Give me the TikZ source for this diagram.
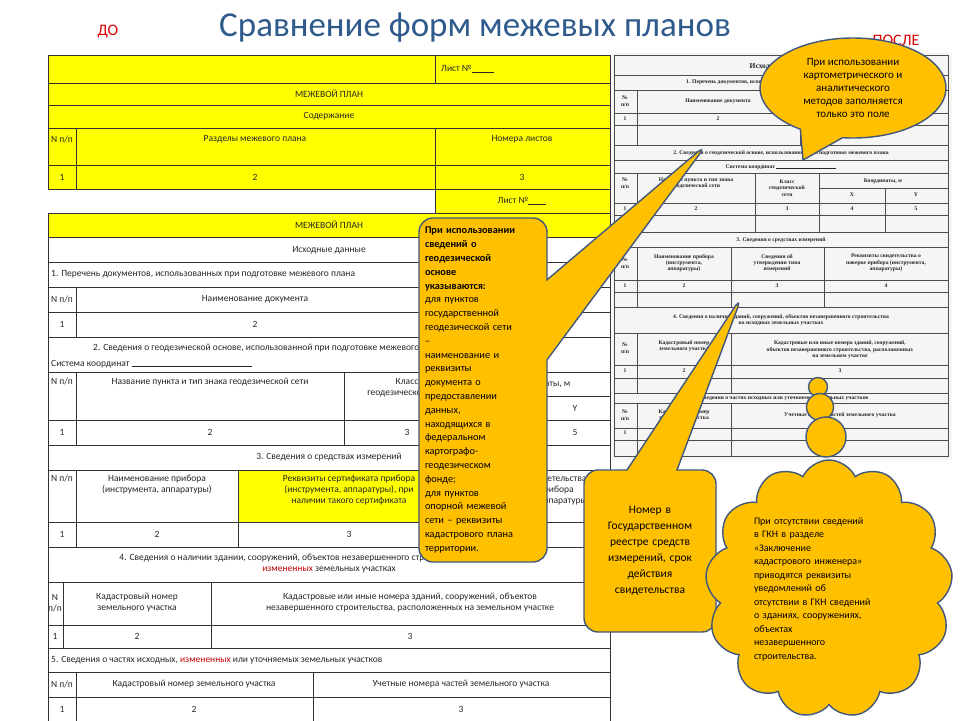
\documentclass[tikz,border=0pt]{standalone}
\usepackage{fontspec}
\setmainfont{Carlito}
\newfontfamily\scanfont{Liberation Serif}
\usetikzlibrary{shapes.callouts,shapes.symbols}
\definecolor{callgold}{HTML}{FFC000}
\definecolor{callrim}{HTML}{41587A}
\definecolor{titleblue}{HTML}{2E5A8C}
\definecolor{sheetyellow}{HTML}{FFFF00}
\definecolor{redword}{HTML}{C00000}
\tikzset{tline/.style={draw=black!80, line width=0.6pt}}
\tikzset{ttext/.style={font=\fontsize{9.5}{11}\selectfont, text=black!85, align=center, inner sep=1pt}}
\tikzset{stext/.style={font=\scanfont\bfseries\fontsize{5.6}{6.4}\selectfont, text=black!85, align=center, inner sep=0.5pt}}
\tikzset{sline/.style={draw=black!70, line width=0.5pt}}
\tikzset{bubble/.style={fill=callgold, draw=callrim, line width=1.4pt}}
% table cell: x1,y1,x2,y2,fill
\newcommand{\tcell}[5]{\path[tline, fill=#5] (#1,#2) rectangle (#3,#4);}
\begin{document}
\begin{tikzpicture}[x=1pt, y=-1pt]
	\useasboundingbox (0,0) rectangle (960,720);
	\fill[white] (0,0) rectangle (960,720);
	% headings
	\node (title) [font=\fontsize{35}{38}\selectfont, text=titleblue] at (475,28) {Сравнение форм межевых планов};
	\node (before) [font=\fontsize{16}{18}\selectfont, text=red!85!black] at (108,32) {ДО};
	\node (after) [font=\fontsize{16}{18}\selectfont, text=red!85!black] at (896,40) {ПОСЛЕ};
	% ---- left table (before) ----
	\tcell{48}{55}{435}{83}{sheetyellow} \tcell{435}{55}{610}{83}{sheetyellow}
	\tcell{48}{83}{610}{105}{sheetyellow}
	\tcell{48}{105}{610}{128}{sheetyellow}
	\tcell{48}{128}{76}{165}{sheetyellow} \tcell{76}{128}{435}{165}{sheetyellow} \tcell{435}{128}{610}{165}{sheetyellow}
	\tcell{48}{165}{76}{189}{sheetyellow} \tcell{76}{165}{435}{189}{sheetyellow} \tcell{435}{165}{610}{189}{sheetyellow}
	\tcell{435}{189}{610}{213}{sheetyellow}
	\tcell{48}{213}{610}{237}{sheetyellow}
	\tcell{48}{237}{610}{262}{white}
	\tcell{48}{262}{610}{287}{white}
	\tcell{48}{287}{76}{312}{white} \tcell{76}{287}{435}{312}{white} \tcell{435}{287}{610}{312}{white}
	\tcell{48}{312}{76}{337}{white} \tcell{76}{312}{435}{337}{white} \tcell{435}{312}{610}{337}{white}
	\tcell{48}{337}{610}{372}{white}
	\tcell{48}{372}{76}{420}{white} \tcell{76}{372}{344}{420}{white} \tcell{344}{372}{470}{420}{white}
	\tcell{470}{372}{610}{396}{white} \tcell{470}{396}{540}{420}{white} \tcell{540}{396}{610}{420}{white}
	\tcell{48}{420}{76}{445}{white} \tcell{76}{420}{344}{445}{white} \tcell{344}{420}{470}{445}{white}
	\tcell{470}{420}{540}{445}{white} \tcell{540}{420}{610}{445}{white}
	\tcell{48}{445}{610}{470}{white}
	\tcell{48}{470}{76}{522}{white} \tcell{76}{470}{238}{522}{white} \tcell{238}{470}{460}{522}{sheetyellow} \tcell{460}{470}{610}{522}{white}
	\tcell{48}{522}{76}{547}{white} \tcell{76}{522}{238}{547}{white} \tcell{238}{522}{460}{547}{white} \tcell{460}{522}{610}{547}{white}
	\tcell{48}{547}{610}{582}{white}
	\tcell{48}{582}{63}{625}{white} \tcell{63}{582}{211}{625}{white} \tcell{211}{582}{610}{625}{white}
	\tcell{48}{625}{63}{648}{white} \tcell{63}{625}{211}{648}{white} \tcell{211}{625}{610}{648}{white}
	\tcell{48}{648}{610}{672}{white}
	\tcell{48}{672}{76}{697}{white} \tcell{76}{672}{313}{697}{white} \tcell{313}{672}{610}{697}{white}
	\tcell{48}{697}{76}{722}{white} \tcell{76}{697}{313}{722}{white} \tcell{313}{697}{610}{722}{white}
	% texts of the left table
	\node (sheetA) [ttext, anchor=west] at (440,69) {Лист №\rule[-0.5pt]{22pt}{0.5pt}};
	\node (planA) [ttext] at (329,94) {МЕЖЕВОЙ ПЛАН};
	\node (contents) [ttext] at (329,116) {Содержание};
	\node (npA) [ttext] at (62,139) {N п/п};
	\node (parts) [ttext] at (255,139) {Разделы межевого плана};
	\node (sheets) [ttext] at (522,139) {Номера листов};
	\node (oneA) [ttext] at (62,177) {1};
	\node (twoA) [ttext] at (255,177) {2};
	\node (threeA) [ttext] at (522,177) {3};
	\node (sheetB) [ttext] at (522,201) {Лист №\rule[-0.5pt]{18pt}{0.5pt}};
	\node (planB) [ttext] at (329,225) {МЕЖЕВОЙ ПЛАН};
	\node (source) [ttext] at (329,250) {Исходные данные};
	\node (secone) [ttext, anchor=west] at (50,274) {1. Перечень документов, использованных при подготовке межевого плана};
	\node (npB) [ttext] at (62,299) {N п/п};
	\node (docname) [ttext] at (255,299) {Наименование документа};
	\node (oneB) [ttext] at (62,324) {1};
	\node (twoB) [ttext] at (255,324) {2};
	\node (sectwo) [ttext, anchor=west] at (92,348) {2. Сведения о геодезической основе, использованной при подготовке межевого плана};
	\node (system) [ttext, anchor=west] at (50,364) {Система координат \rule[-0.5pt]{120pt}{0.5pt}};
	\node (npC) [ttext, anchor=north] at (62,377) {N п/п};
	\node (point) [ttext, anchor=north] at (210,377) {Название пункта и тип знака геодезической сети};
	\node (class) [ttext, anchor=north] at (407,377) {Класс\\геодезической сети};
	\node (coords) [ttext] at (540,384) {Координаты, м};
	\node (colx) [ttext] at (505,408) {X};
	\node (coly) [ttext] at (575,408) {Y};
	\node (oneC) [ttext] at (62,432) {1};
	\node (twoC) [ttext] at (210,432) {2};
	\node (threeC) [ttext] at (407,432) {3};
	\node (fourC) [ttext] at (505,432) {4};
	\node (fiveC) [ttext] at (575,432) {5};
	\node (secthree) [ttext] at (329,457) {3. Сведения о средствах измерений};
	\node (npD) [ttext, anchor=north] at (62,474) {N п/п};
	\node (device) [ttext, anchor=north] at (157,474) {Наименование прибора\\(инструмента, аппаратуры)};
	\node (cert) [ttext, anchor=north] at (349,474) {Реквизиты сертификата прибора\\(инструмента, аппаратуры), при\\наличии такого сертификата};
	\node (check) [ttext, anchor=north] at (535,474) {Реквизиты свидетельства\\о поверке прибора\\(инструмента, аппаратуры)};
	\node (oneD) [ttext] at (62,534) {1};
	\node (twoD) [ttext] at (157,534) {2};
	\node (threeD) [ttext] at (349,534) {3};
	\node (fourD) [ttext] at (535,534) {4};
	\node (secfour) [ttext] at (329,564) {4. Сведения о наличии здании, сооружений, объектов незавершенного строительства на исходных {\color{redword}или}\\{\color{redword}измененных} земельных участках};
	\node (npE) [ttext] at (55,603) {N\\п/п};
	\node (cadA) [ttext] at (137,603) {Кадастровый номер\\земельного участка};
	\node (build) [ttext] at (410,603) {Кадастровые или иные номера зданий, сооружений, объектов\\незавершенного строительства, расположенных на земельном участке};
	\node (oneE) [ttext] at (55,636) {1};
	\node (twoE) [ttext] at (137,636) {2};
	\node (threeE) [ttext] at (410,636) {3};
	\node (secfive) [ttext, anchor=west] at (50,660) {5. Сведения о частях исходных, {\color{redword}измененных} или уточняемых земельных участков};
	\node (npF) [ttext] at (62,684) {N п/п};
	\node (cadB) [ttext] at (194,684) {Кадастровый номер земельного участка};
	\node (parcel) [ttext] at (461,684) {Учетные номера частей земельного участка};
	\node (oneF) [ttext] at (62,709) {1};
	\node (twoF) [ttext] at (194,709) {2};
	\node (threeF) [ttext] at (461,709) {3};
	% ---- right scan (after) ----
	\fill[black!4] (612,53) rectangle (952,460);
	\draw[sline] (614,55) rectangle (948,456);
	\foreach \yy in {75,90,113,125,145,160,173,203,215,232,247,280,292,307,333,365,378,393,403,428,440} {
		\draw[sline] (614,\yy) -- (948,\yy);
	}
	\draw[sline] (637,90) -- (637,145);
	\draw[sline] (800,90) -- (800,145);
	\foreach \xx in {637,755,819} {\draw[sline] (\xx,173) -- (\xx,232);}
	\draw[sline] (885,188) -- (885,232);
	\draw[sline] (819,188) -- (948,188);
	\foreach \xx in {637,731,824} {\draw[sline] (\xx,247) -- (\xx,307);}
	\foreach \xx in {637,731} {\draw[sline] (\xx,333) -- (\xx,393);}
	\foreach \xx in {637,731} {\draw[sline] (\xx,403) -- (\xx,456);}
	\node (scsource) [stext, font=\scanfont\bfseries\fontsize{7.5}{8}\selectfont] at (780,67) {Исходные данные};
	\node (scone) [stext] at (780,82) {1. Перечень документов, использованных при подготовке межевого плана};
	\node (scnpA) [stext] at (625,101) {№\\п/п};
	\node (scdoc) [stext] at (718,101) {Наименование документа};
	\node (scoA) [stext] at (625,119) {1};
	\node (sctA) [stext] at (718,119) {2};
	\node (sctwo) [stext] at (781,153) {2. Сведения о геодезической основе, использованной при подготовке межевого плана};
	\node (scsys) [stext] at (781,167) {Система координат \rule[-0.5pt]{60pt}{0.4pt}};
	\node (scnpB) [stext] at (625,183) {№\\п/п};
	\node (scpoint) [stext] at (696,183) {Название пункта и тип знака\\геодезической сети};
	\node (scclass) [stext] at (787,188) {Класс\\геодезической\\сети};
	\node (sccoord) [stext] at (883,181) {Координаты, м};
	\node (scx) [stext] at (852,195) {X};
	\node (scy) [stext] at (916,195) {Y};
	\foreach \cx/\ct in {625/1,696/2,787/3,852/4,916/5} {\node (scrow\ct) [stext] at (\cx,209) {\ct};}
	\node (scthree) [stext] at (781,240) {3. Сведения о средствах измерений};
	\node (scnpC) [stext] at (625,263) {№\\п/п};
	\node (scdev) [stext] at (684,263) {Наименование прибора\\(инструмента,\\аппаратуры)};
	\node (sctype) [stext] at (777,263) {Сведения об\\утверждении типа\\измерений};
	\node (sccheck) [stext] at (886,263) {Реквизиты свидетельства о\\поверке прибора (инструмента,\\аппаратуры)};
	\foreach \cx/\ct in {625/1,684/2,777/3,886/4} {\node (scmeas\ct) [stext] at (\cx,286) {\ct};}
	\node (scfour) [stext] at (781,320) {4. Сведения о наличии зданий, сооружений, объектов незавершенного строительства\\на исходных земельных участках};
	\node (scnpD) [stext] at (625,348) {№\\п/п};
	\node (sccadA) [stext] at (684,346) {Кадастровый номер\\земельного участка};
	\node (scbuild) [stext] at (840,350) {Кадастровые или иные номера зданий, сооружений,\\объектов незавершенного строительства, расположенных\\на земельном участке};
	\foreach \cx/\ct in {625/1,684/2,840/3} {\node (scbld\ct) [stext] at (\cx,371) {\ct};}
	\node (scfive) [stext] at (781,398) {5. Сведения о частях исходных или уточняемых земельных участков};
	\node (scnpE) [stext] at (625,415) {№\\п/п};
	\node (sccadB) [stext] at (684,415) {Кадастровый номер\\земельного участка};
	\node (scparcel) [stext] at (840,415) {Учетные номера частей земельного участка};
	\node (scoE) [stext] at (625,433) {1};
	% ---- callouts ----
	\coordinate (tipsys) at (803,160);
	\coordinate (tipgeo) at (707,144);
	\coordinate (tipmeas) at (742,296);
	\node (ovalnote) [bubble, ellipse callout, callout absolute pointer=(tipsys), callout pointer arc=28, minimum width=186pt, minimum height=100pt, inner sep=0pt,
		font=\fontsize{11}{13}\selectfont, align=center] at (853,88)
		{При использовании\\картометрического и\\аналитического\\методов заполняется\\только это поле};
	\node (geonote) [bubble, rectangle callout, callout absolute pointer=(tipgeo), callout pointer width=80pt, rounded corners=14pt, text width=116pt, minimum height=344pt,
		inner xsep=6pt, font=\fontsize{10.3}{13.8}\selectfont, align=left] at (483,390)
		{\textbf{При использовании}\\\textbf{сведений о}\\\textbf{геодезической}\\\textbf{основе}\\\textbf{указываются:}\\для пунктов\\государственной\\геодезической сети\\--\\наименование и\\реквизиты\\документа о\\предоставлении\\данных,\\находящихся в\\федеральном\\картографо-\\геодезическом\\фонде;\\для пунктов\\опорной межевой\\сети -- реквизиты\\кадастрового плана\\территории.};
	\node (measnote) [bubble, rectangle callout, callout absolute pointer=(tipmeas), callout pointer width=50pt, rounded corners=14pt, text width=122pt, minimum height=162pt,
		inner xsep=5pt, font=\fontsize{11.5}{16}\selectfont, align=center] at (650,551)
		{Номер в\\Государственном\\реестре средств\\измерений, срок\\действия\\свидетельства};
	\node (dotA) [bubble, circle, minimum size=19pt, inner sep=0pt] at (818,387) {};
	\node (dotB) [bubble, circle, minimum size=27pt, inner sep=0pt] at (820,407) {};
	\node (dotC) [bubble, circle, minimum size=40pt, inner sep=0pt] at (826,437) {};
	\node (cloudnote) [bubble, cloud, cloud puffs=13, cloud puff arc=130, cloud ignores aspect, minimum width=212pt, minimum height=258pt, text width=150pt,
		font=\fontsize{10}{13.5}\selectfont, align=left] at (829,589)
		{При отсутствии сведений\\в ГКН в разделе\\«Заключение\\кадастрового инженера»\\приводятся реквизиты\\уведомлений об\\отсутствии в ГКН сведений\\о зданиях, сооружениях,\\объектах\\незавершенного\\строительства.};
\end{tikzpicture}
\end{document}
